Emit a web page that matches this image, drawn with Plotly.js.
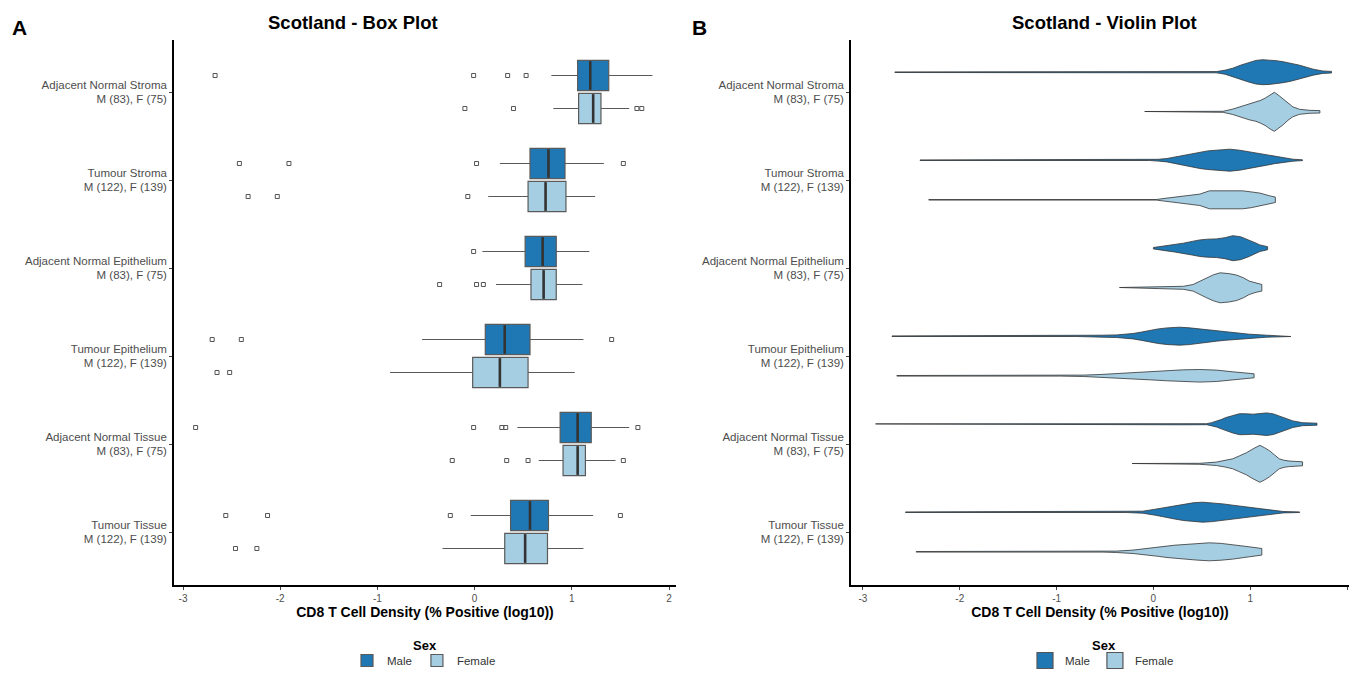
<!DOCTYPE html>
<html>
<head>
<meta charset="utf-8">
<script src="https://cdn.plot.ly/plotly-3.0.1.min.js"></script>
<style>html,body{margin:0;padding:0;background:#fff;}#chart{width:1349px;height:675px;}</style>
</head>
<body>
<div id="chart"></div>
<script>
// ---------- data ----------
const categories = ['Adjacent Normal Stroma','Tumour Stroma','Adjacent Normal Epithelium','Tumour Epithelium','Adjacent Normal Tissue','Tumour Tissue'];
const counts = ['M (83), F (75)','M (122), F (139)','M (83), F (75)','M (122), F (139)','M (83), F (75)','M (122), F (139)'];
const sexes = ['Male','Female'];
const xTickVals = [-3,-2,-1,0,1,2];
const xTickText = ['-3','-2','-1','0','1','2'];

// box statistics (log10 % positive), order as categories
const maleQ1  = [1.06,0.57,0.52,0.11,0.88,0.37];
const maleMed = [1.19,0.76,0.70,0.31,1.06,0.57];
const maleQ3  = [1.38,0.93,0.84,0.57,1.20,0.76];
const maleLo  = [0.79,0.26,0.08,-0.54,0.44,-0.04];
const maleHi  = [1.83,1.33,1.18,1.12,1.59,1.22];
const femaleQ1  = [1.07,0.55,0.58,-0.02,0.91,0.31];
const femaleMed = [1.22,0.73,0.71,0.26,1.06,0.52];
const femaleQ3  = [1.30,0.94,0.84,0.55,1.14,0.75];
const femaleLo  = [0.81,0.14,0.22,-0.87,0.66,-0.33];
const femaleHi  = [1.59,1.24,1.11,1.03,1.45,1.12];

const maleOutliers = [
  [-2.67,-0.01,0.34,0.53],
  [-2.42,-1.91,0.02,1.53],
  [-0.01],
  [-2.70,-2.40,1.41],
  [-2.87,-0.01,0.28,0.32,1.68],
  [-2.56,-2.13,-0.25,1.50]
];
const femaleOutliers = [
  [-0.10,0.40,1.67,1.72],
  [-2.33,-2.03,-0.07],
  [-0.36,0.02,0.09],
  [-2.65,-2.52],
  [-0.23,0.33,0.55,1.53],
  [-2.46,-2.24]
];

// violin density profiles: value positions and relative density (half-width)
const maleViolinX = [
  [-2.67,0.30,0.50,0.65,0.74,0.82,0.90,0.99,1.06,1.13,1.20,1.27,1.34,1.42,1.51,1.58,1.65,1.75,1.84],
  [-2.41,-0.04,0.05,0.14,0.22,0.31,0.40,0.48,0.56,0.65,0.72,0.79,0.89,0.99,1.08,1.17,1.25,1.34,1.44,1.54],
  [0.00,0.07,0.14,0.22,0.31,0.40,0.48,0.56,0.65,0.74,0.82,0.90,0.99,1.05,1.10,1.15,1.18],
  [-2.70,-0.79,-0.65,-0.52,-0.38,-0.21,-0.12,-0.04,0.05,0.14,0.20,0.27,0.37,0.48,0.56,0.65,0.74,0.82,0.99,1.17,1.42],
  [-2.87,0.30,0.55,0.60,0.65,0.70,0.75,0.82,0.89,0.96,1.03,1.10,1.17,1.24,1.30,1.37,1.44,1.54,1.69],
  [-2.56,-0.28,-0.11,0.02,0.14,0.22,0.31,0.41,0.51,0.61,0.72,0.82,0.92,1.05,1.17,1.34,1.51]
];
const maleViolinD = [
  [0.3,0.6,0.5,0.6,2,4,7,10,11.8,12.5,12.2,11.5,10.5,9,7,5,3,1.2,0.8],
  [0.3,0.3,0.9,1.7,3.2,5,6.8,8.3,9.3,10,10.7,11,10,8.3,6.6,5,3.5,2,1,0.4],
  [0.7,1.6,2.7,3.8,5,6.8,8.3,9,9.3,10.5,12.5,11.5,8.3,5.5,3.3,2,1.5],
  [0.3,0.3,0.7,1,1.3,2.7,4.2,6,7.3,8.3,8.8,9,8.4,7.3,6.2,5,4.1,3.3,2,1,0.3],
  [0.3,0.6,0.5,1.5,2.7,4.6,6.7,8.8,10.5,10.4,10,10.6,11.3,10.3,8.3,5.8,3.3,1.5,1],
  [0.3,0.3,1,3,5,6.8,8.3,9.4,10,9.4,8.3,7,5.7,4.2,2.7,0.7,0.3]
];
const femaleViolinX = [
  [-0.09,0.72,0.82,0.91,0.99,1.06,1.11,1.16,1.21,1.25,1.30,1.34,1.39,1.44,1.51,1.61,1.72],
  [-2.32,0.03,0.14,0.22,0.31,0.40,0.48,0.58,0.72,0.82,0.92,1.01,1.10,1.20,1.26],
  [-0.35,-0.04,0.14,0.31,0.41,0.48,0.55,0.62,0.69,0.78,0.86,0.93,0.99,1.06,1.12],
  [-2.65,-0.96,-0.72,-0.55,-0.38,-0.21,-0.04,0.14,0.31,0.48,0.65,0.82,0.93,1.04],
  [-0.22,0.48,0.65,0.74,0.82,0.89,0.96,1.03,1.10,1.15,1.20,1.25,1.30,1.35,1.41,1.54],
  [-2.45,-0.52,-0.38,-0.21,-0.04,0.05,0.14,0.22,0.31,0.45,0.58,0.70,0.82,0.91,0.99,1.12]
];
const femaleViolinD = [
  [0.3,0.5,2.7,5.5,8,9.5,11.5,14,17.5,19.5,16,13,8.5,5,2.5,1.5,1.2],
  [0.3,0.3,1.7,2.8,4,4.8,5.7,9,9.3,9.2,9,7.9,6.7,4,2.7],
  [0.3,0.7,1,1.5,3.3,6.5,10,13,15,14.2,12.7,10,6.7,4.5,3.3],
  [0.3,0.3,0.7,1.3,2.3,3.2,4,5,6,6.3,5.7,4,3,2],
  [0.3,0.5,1.7,3.2,5,8,11,15,18.5,16,13,9,5,3.5,2.7,2],
  [0.3,0.3,0.7,1.7,3.3,4.5,5.7,6.6,7.3,8.3,9,8.4,7.3,6.2,5,3.3]
];

// ---------- styling ----------
const MALE = '#1F78B4', FEMALE = '#A6CEE3';
const FONT = 'Liberation Sans, Arial, Helvetica, sans-serif';
const nCat = categories.length;
const catPos = categories.map((c,i) => nCat - i);          // top category highest
const tickLabels = categories.map((c,i) => c + '<br>' + counts[i]);
const boxOff = 0.1875, boxW = 0.345, vioOff = 0.225, densScale = 1/88;

const traces = [];

// ----- box plot (panel A) -----
function boxTrace(name, color, q1, med, q3, lo, hi, off) {
  return {
    type: 'box', orientation: 'h', name: name, xaxis: 'x', yaxis: 'y',
    y: catPos.map(p => p + off), q1: q1, median: med, q3: q3,
    lowerfence: lo, upperfence: hi, boxpoints: false,
    width: boxW, whiskerwidth: 0,
    fillcolor: color, line: {color: '#5a5a5a', width: 1.2},
    legend: 'legend', hoverinfo: 'x'
  };
}
traces.push(boxTrace(sexes[0], MALE, maleQ1, maleMed, maleQ3, maleLo, maleHi, boxOff));
traces.push(boxTrace(sexes[1], FEMALE, femaleQ1, femaleMed, femaleQ3, femaleLo, femaleHi, -boxOff));

function medianTrace(med, off) {
  const x = [], y = [];
  med.forEach((m,i) => { const c = catPos[i] + off; x.push(m, m, null); y.push(c - boxW/2 + 0.01, c + boxW/2 - 0.01, null); });
  return {type:'scatter', mode:'lines', x:x, y:y, xaxis:'x', yaxis:'y', showlegend:false, hoverinfo:'skip',
          line:{color:'#333333', width:2.6}};
}
traces.push(medianTrace(maleMed, boxOff));
traces.push(medianTrace(femaleMed, -boxOff));

function outlierTrace(outs, off) {
  const x = [], y = [];
  outs.forEach((arr,i) => arr.forEach(v => { x.push(v); y.push(catPos[i] + off); }));
  return {type:'scatter', mode:'markers', x:x, y:y, xaxis:'x', yaxis:'y', showlegend:false, hoverinfo:'x',
          marker:{symbol:'square-open', size:4, color:'#555555', line:{width:1, color:'#555555'}}};
}
traces.push(outlierTrace(maleOutliers, boxOff));
traces.push(outlierTrace(femaleOutliers, -boxOff));

// ----- violin plot (panel B) -----
function violinTrace(name, color, vx, vd, off) {
  const x = [], y = [];
  vx.forEach((xs,i) => {
    const c = catPos[i] + off, ds = vd[i];
    for (let k = 0; k < xs.length; k++) { x.push(xs[k]); y.push(c + ds[k]*densScale); }
    for (let k = xs.length - 1; k >= 0; k--) { x.push(xs[k]); y.push(c - ds[k]*densScale); }
    x.push(xs[0]); y.push(c + ds[0]*densScale);
    x.push(null); y.push(null);
  });
  return {type:'scatter', mode:'lines', name:name, x:x, y:y, xaxis:'x2', yaxis:'y2',
          fill:'toself', fillcolor:color, line:{color:'#333333', width:0.8},
          showlegend:false, hoverinfo:'skip'};
}
traces.push(violinTrace(sexes[0], MALE, maleViolinX, maleViolinD, vioOff));
traces.push(violinTrace(sexes[1], FEMALE, femaleViolinX, femaleViolinD, -vioOff));

// legend keys for panel B (filled squares)
[[sexes[0], MALE], [sexes[1], FEMALE]].forEach(([n, col]) => {
  traces.push({type:'scatter', mode:'markers', name:n, x:[null], y:[null], xaxis:'x2', yaxis:'y2',
    marker:{symbol:'square', size:17, color:col, line:{color:'#555555', width:1.2}}, legend:'legend2'});
});

// ---------- layout ----------
const W = 1349, H = 675;
const yDom = [1 - 585/H, 1 - 40/H];
const yRange = [1 - 53/88, nCat + 52/88];
function xAxis(dom, range) {
  return {domain: dom, range: range, autorange: false, zeroline: false, showgrid: false,
    showline: true, linecolor: '#000', linewidth: 1.8, ticks: 'outside', ticklen: 3, tickcolor: '#444', tickwidth: 1,
    tickmode: 'array', tickvals: xTickVals, ticktext: xTickText,
    tickfont: {family: FONT, size: 10, color: '#4D4D4D'}, automargin: false,
    title: {text: 'CD8 T Cell Density (% Positive (log10))', font: {family: FONT, size: 14, color: '#000', weight: 'bold'}, standoff: 2}};
}
function yAxis(anchor) {
  return {domain: yDom, range: yRange, autorange: false, anchor: anchor, zeroline: false, showgrid: false,
    showline: true, linecolor: '#000', linewidth: 1.8, ticks: 'outside', ticklen: 3, tickcolor: '#444', tickwidth: 1,
    tickmode: 'array', tickvals: catPos, ticktext: tickLabels,
    tickfont: {family: FONT, size: 11.5, color: '#4D4D4D'}, automargin: false};
}
const legendBase = {orientation: 'h', yanchor: 'bottom', y: 0, xanchor: 'center',
  font: {family: FONT, size: 11.5, color: '#333'}, bgcolor: 'rgba(0,0,0,0)',
  itemwidth: 30, tracegroupgap: 0};

const layout = {
  width: W, height: H, margin: {l: 0, r: 0, t: 0, b: 0},
  paper_bgcolor: '#fff', plot_bgcolor: '#fff', boxmode: 'overlay',
  font: {family: FONT},
  xaxis: Object.assign(xAxis([174/W, 676/W], [-3 - 9/97.2, 2 + 7/97.2]), {anchor: 'y'}),
  yaxis: yAxis('x'),
  xaxis2: Object.assign(xAxis([851/W, 1], [-3 - 12/97, 2 + 2/97]), {anchor: 'y2'}),
  yaxis2: yAxis('x2'),
  legend: Object.assign({}, legendBase, {x: 424/W}),
  legend2: Object.assign({}, legendBase, {x: 1102/W}),
  annotations: [
    {text: '<b>Scotland - Box Plot</b>', xref: 'paper', yref: 'paper', x: 353/W, y: 1 - 22/H, showarrow: false,
     font: {family: FONT, size: 18.5, color: '#000'}, xanchor: 'center', yanchor: 'middle'},
    {text: '<b>Scotland - Violin Plot</b>', xref: 'paper', yref: 'paper', x: 1104/W, y: 1 - 22/H, showarrow: false,
     font: {family: FONT, size: 18.5, color: '#000'}, xanchor: 'center', yanchor: 'middle'},
    {text: '<b>A</b>', xref: 'paper', yref: 'paper', x: 10/W, y: 1 - 28/H, showarrow: false,
     font: {family: FONT, size: 21, color: '#000'}, xanchor: 'left', yanchor: 'middle'},
    {text: '<b>B</b>', xref: 'paper', yref: 'paper', x: 690/W, y: 1 - 28/H, showarrow: false,
     font: {family: FONT, size: 21, color: '#000'}, xanchor: 'left', yanchor: 'middle'},
    {text: '<b>Sex</b>', xref: 'paper', yref: 'paper', x: 425/W, y: 1 - 645/H, showarrow: false,
     font: {family: FONT, size: 13, color: '#000'}, xanchor: 'center', yanchor: 'middle'},
    {text: '<b>Sex</b>', xref: 'paper', yref: 'paper', x: 1104/W, y: 1 - 645/H, showarrow: false,
     font: {family: FONT, size: 13, color: '#000'}, xanchor: 'center', yanchor: 'middle'}
  ],
  showlegend: true
};

Plotly.newPlot('chart', traces, layout, {displayModeBar: false, staticPlot: true});
</script>
</body>
</html>
